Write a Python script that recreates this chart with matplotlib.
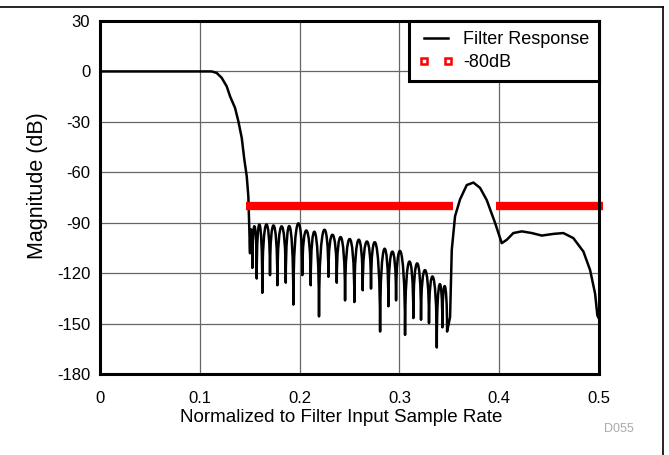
import matplotlib
matplotlib.use("Agg")
import matplotlib.pyplot as plt
from matplotlib.lines import Line2D
from matplotlib.path import Path
from matplotlib.patches import PathPatch

plt.rcParams['font.family'] = ['Liberation Sans', 'DejaVu Sans']
plt.rcParams['axes.unicode_minus'] = False

# passband and transition band (normalized freq, dB)
pass_f = [0.0, 0.105, 0.1119, 0.1169, 0.1219, 0.1269, 0.1303, 0.1353, 0.1386, 0.1420,
          0.1446, 0.1470, 0.1486]
pass_db = [0.0, 0.0, 0.0, -0.9, -3.8, -8.8, -14.8, -21.7, -29.6, -39.5,
           -52.4, -62.3, -74.2]

# stop band: nulls and the lobe tops between them
null_f = [0.1503, 0.1526, 0.1570, 0.1626, 0.1703, 0.1777, 0.1861, 0.1937, 0.2027, 0.2111,
          0.2194, 0.2288, 0.2372, 0.2455, 0.2548, 0.2632, 0.2715, 0.2806, 0.2889, 0.2966,
          0.3056, 0.3139, 0.3216, 0.3296, 0.3374, 0.3430, 0.3477]
null_db = [-108.0, -116.7, -123.0, -131.5, -121.0, -127.0, -125.5, -138.5, -121.0, -127.0,
           -145.5, -122.0, -125.5, -136.0, -137.0, -130.0, -129.0, -154.5, -139.5, -136.0,
           -156.5, -146.5, -147.5, -149.5, -164.0, -152.0, -154.5]
peak_db = [-94.0, -92.0, -91.0, -91.0, -91.5, -92.0, -92.0, -90.5, -94.5, -95.5,
           -94.5, -97.0, -98.5, -99.5, -100.0, -101.0, -102.0, -105.5, -107.0, -107.0,
           -113.0, -114.0, -118.0, -122.0, -126.5, -127.5]

# image band past 0.35
tail_f = [0.3507, 0.3524, 0.3557, 0.3607, 0.3674, 0.3741, 0.3808, 0.3875, 0.3958, 0.4025,
          0.4075, 0.4141, 0.4226, 0.4326, 0.4426, 0.4542, 0.4642, 0.4742, 0.4843, 0.4910,
          0.4960, 0.4983, 0.5]
tail_db = [-146.0, -106.0, -86.0, -76.0, -67.5, -66.0, -69.2, -76.5, -90.0, -102.0,
           -100.0, -96.0, -95.0, -96.0, -97.5, -96.5, -96.0, -99.0, -107.0, -118.0,
           -132.0, -145.0, -147.0]

# -80 dB stop band limit segments
limit_db = -80
limit_start = [0.1463, 0.3968]
limit_end = [0.3537, 0.5040]

xticks = [0, 0.1, 0.2, 0.3, 0.4, 0.5]
xticklabels = ['0', '0.1', '0.2', '0.3', '0.4', '0.5']
yticks = [-180, -150, -120, -90, -60, -30, 0, 30]

fig = plt.figure(figsize=(6.69, 4.55), dpi=100)
ax = fig.add_axes([0.1495, 0.177, 0.746, 0.777])

# build one path: straight pieces plus arched lobes (cubic curves) in the stop band
verts = [(f, d) for f, d in zip(pass_f, pass_db)]
codes = [Path.MOVETO] + [Path.LINETO] * (len(pass_f) - 1)
verts.append((null_f[0], null_db[0]))
codes.append(Path.LINETO)
for i, top in enumerate(peak_db):
    f0, d0 = null_f[i], null_db[i]
    f1, d1 = null_f[i + 1], null_db[i + 1]
    c = (top - (d0 + d1) / 8) * 4 / 3
    verts += [(f0, c), (f1, c), (f1, d1)]
    codes += [Path.CURVE4] * 3
verts += [(f, d) for f, d in zip(tail_f, tail_db)]
codes += [Path.LINETO] * len(tail_f)
ax.add_patch(PathPatch(Path(verts, codes), fill=False, edgecolor='black', lw=1.8,
                       joinstyle='round', zorder=3))

for a, b in zip(limit_start, limit_end):
    ax.plot([a, b], [limit_db, limit_db], color='red', lw=6,
            solid_capstyle='butt', clip_on=False, zorder=4)

ax.set_xlim(0, 0.5)
ax.set_ylim(-180, 30)
ax.set_xticks(xticks)
ax.set_xticklabels(xticklabels)
ax.set_yticks(yticks)
ax.tick_params(axis='y', length=0, pad=7, labelsize=12)
ax.tick_params(axis='x', length=0, pad=12, labelsize=12)
ax.grid(True, color='#666666', lw=0.9)
for s in ax.spines.values():
    s.set_linewidth(2.2)
    s.set_zorder(5)

ax.set_xlabel('Normalized to Filter Input Sample Rate', fontsize=13.5)
ax.xaxis.set_label_coords(0.484, -0.099)
ax.set_ylabel('Magnitude (dB)', fontsize=15.5)
ax.yaxis.set_label_coords(-0.104, 0.535)

handles = [
    Line2D([], [], color='black', lw=1.8),
    Line2D([], [], ls='none', marker='s', mfc='white', mec='red', mew=1.8, ms=4.5),
]
leg = ax.legend(handles, ['Filter Response', '-80dB'], loc='upper right',
                borderaxespad=0, fancybox=False, framealpha=1, edgecolor='black',
                handlelength=1.9, handletextpad=0.55, labelspacing=0.35,
                borderpad=0.55, numpoints=2, fontsize=13)
leg.get_frame().set_linewidth(2.2)
leg.set_zorder(6)

fig.text(0.948, 0.057, 'D055', color='#aaaaaa', fontsize=9, ha='right', va='center')

# figure border lines on top and right
fig.add_artist(Line2D([0, 0.991], [0.985, 0.985], color='black', lw=1.2))
fig.add_artist(Line2D([0.991, 0.991], [0, 0.985], color='black', lw=1.2))

fig.savefig('out.png', dpi=100)
